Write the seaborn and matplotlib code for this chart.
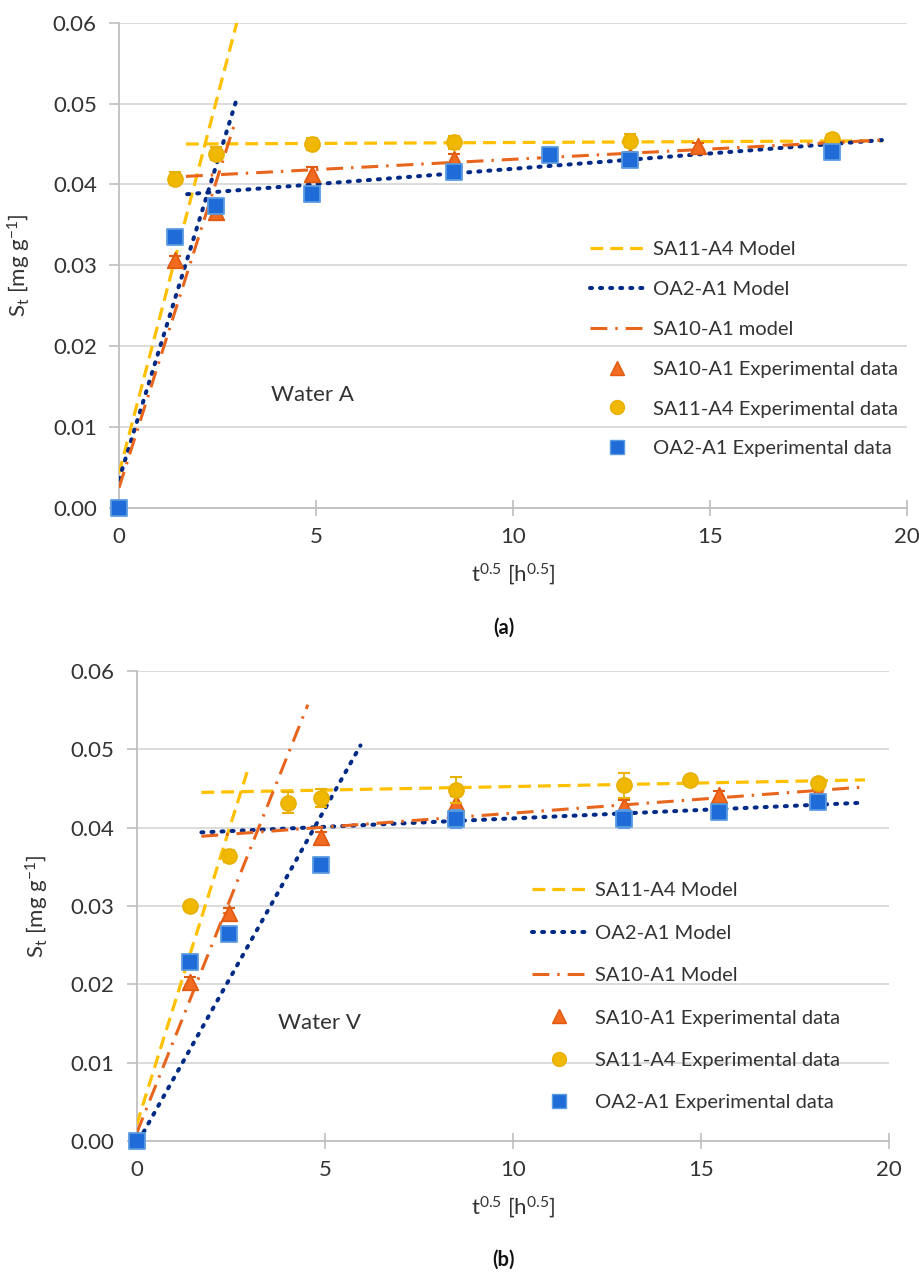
import matplotlib
matplotlib.use("Agg")
import matplotlib.pyplot as plt
from matplotlib.lines import Line2D
import seaborn as sns
import numpy as np
import pandas as pd

# ---------------- data ----------------
x_ticks = [0, 5, 10, 15, 20]
y_ticks = [0.00, 0.01, 0.02, 0.03, 0.04, 0.05, 0.06]

# Panel (a) - Water A
a_tri_x = [1.41, 2.45, 4.90, 8.49, 12.96, 14.70]
a_tri_y = [0.0306, 0.0366, 0.0413, 0.0432, 0.0435, 0.0447]
a_tri_e = [0.0006, 0.0006, 0.0008, 0.0006, 0.0005, 0.0004]
a_cir_x = [1.41, 2.45, 4.90, 8.49, 12.96, 18.10]
a_cir_y = [0.0407, 0.0438, 0.0450, 0.0452, 0.0454, 0.0456]
a_cir_e = [0.0008, 0.0008, 0.0008, 0.0008, 0.0008, 0.0006]
a_sq_x = [0.00, 1.41, 2.45, 4.90, 8.49, 10.95, 12.96, 18.10]
a_sq_y = [0.0000, 0.0335, 0.0373, 0.0388, 0.0416, 0.0437, 0.0430, 0.0440]
a_sq_e = [0.0000, 0.0004, 0.0005, 0.0004, 0.0005, 0.0004, 0.0004, 0.0004]

a_sa11_steep_x = [0.00, 2.99]
a_sa11_steep_y = [0.0043, 0.0600]
a_sa11_flat_x = [1.70, 19.40]
a_sa11_flat_y = [0.0450, 0.0454]
a_oa2_steep_x = [0.00, 2.99]
a_oa2_steep_y = [0.0035, 0.0506]
a_oa2_flat_x = [1.73, 19.40]
a_oa2_flat_y = [0.0388, 0.0455]
a_sa10_steep_x = [0.00, 2.94]
a_sa10_steep_y = [0.0025, 0.0476]
a_sa10_flat_x = [1.70, 19.40]
a_sa10_flat_y = [0.0410, 0.0455]

# Panel (b) - Water V
b_tri_x = [1.41, 2.45, 4.90, 8.49, 12.96, 15.49, 18.10]
b_tri_y = [0.0203, 0.0291, 0.0388, 0.0432, 0.0428, 0.0442, 0.0446]
b_tri_e = [0.0006, 0.0007, 0.0006, 0.0008, 0.0007, 0.0005, 0.0004]
b_cir_x = [1.41, 2.45, 4.02, 4.90, 8.49, 12.96, 14.70, 18.10]
b_cir_y = [0.0300, 0.0364, 0.0432, 0.0438, 0.0448, 0.0454, 0.0461, 0.0457]
b_cir_e = [0.0003, 0.0008, 0.0013, 0.0012, 0.0017, 0.0016, 0.0003, 0.0004]
b_sq_x = [0.00, 1.41, 2.45, 4.90, 8.49, 12.96, 15.49, 18.10]
b_sq_y = [0.0000, 0.0229, 0.0264, 0.0352, 0.0411, 0.0411, 0.0420, 0.0433]
b_sq_e = [0.0000, 0.0004, 0.0004, 0.0007, 0.0012, 0.0012, 0.0004, 0.0004]

b_sa11_steep_x = [0.00, 2.98]
b_sa11_steep_y = [0.0021, 0.0478]
b_sa11_flat_x = [1.72, 19.36]
b_sa11_flat_y = [0.0445, 0.0461]
b_oa2_steep_x = [0.05, 5.95]
b_oa2_steep_y = [0.0000, 0.0505]
b_oa2_flat_x = [1.72, 19.36]
b_oa2_flat_y = [0.0394, 0.0432]
b_sa10_steep_x = [0.00, 4.55]
b_sa10_steep_y = [0.0010, 0.0557]
b_sa10_flat_x = [1.72, 19.36]
b_sa10_flat_y = [0.0389, 0.0452]

a_labels = ["SA11-A4 Model", "OA2-A1 Model", "SA10-A1 model",
            "SA10-A1 Experimental data", "SA11-A4 Experimental data", "OA2-A1 Experimental data"]
b_labels = ["SA11-A4 Model", "OA2-A1 Model", "SA10-A1 Model",
            "SA10-A1 Experimental data", "SA11-A4 Experimental data", "OA2-A1 Experimental data"]

# ---------------- style ----------------
sns.set_theme(style="white")
plt.rcParams["font.family"] = ["Lato", "DejaVu Sans"]
plt.rcParams["mathtext.fontset"] = "custom"
plt.rcParams["mathtext.rm"] = "Lato"
plt.rcParams["mathtext.it"] = "Lato:italic"
plt.rcParams["mathtext.bf"] = "Lato:bold"

YEL = "#FFC000"
YEL_M = "#F0B800"
NAVY = "#002A86"
ORA = "#E8651E"
ORA_M = "#F26B21"
BLU_M = "#1F6BD8"
BLU_E = "#5B9BE0"
TXT = "#333333"
GRID = "#D9D9D9"
AX = "#BFBFBF"

ls_yel = (0, (4.0, 2.2))
ls_navy = (0, (0.5, 2.0))
ls_ora = (0, (5.5, 2.6, 0.8, 2.6))

fig = plt.figure(figsize=(9.2, 12.72), dpi=100)
W, H = 920, 1272
ax1 = fig.add_axes([119 / W, 1 - 508 / H, (907 - 119) / W, (508 - 22.7) / H])
ax2 = fig.add_axes([136.7 / W, 1 - 1141 / H, (889 - 136.7) / W, (1141 - 671) / H])


def seg(ax, xs, ys, color, ls, lw):
    d = pd.DataFrame({"x": xs, "y": ys})
    sns.lineplot(data=d, x="x", y="y", ax=ax, color=color, linestyle=ls,
                 linewidth=lw, sort=False, estimator=None, zorder=3,
                 dash_capstyle="round" if ls is ls_navy else "butt")


def pts(ax, xs, ys, es, marker, fc, ec, s, z):
    ax.errorbar(xs, ys, yerr=es, fmt="none", ecolor=ec, elinewidth=1.3,
                capsize=4.5, capthick=1.5, zorder=z - 0.5)
    d = pd.DataFrame({"x": xs, "y": ys})
    sns.scatterplot(data=d, x="x", y="y", ax=ax, marker=marker, s=s,
                    color=fc, edgecolor=ec, linewidth=1.3, zorder=z, clip_on=False)


def panel(ax, m, tri, cir, sq, labels, note, note_xy, leg_anchor, lspace):
    (s11s, s11f, o2s, o2f, s10s, s10f) = m
    seg(ax, *s11s, YEL, ls_yel, 2.3)
    seg(ax, *s11f, YEL, ls_yel, 2.3)
    seg(ax, *o2s, NAVY, ls_navy, 2.9)
    seg(ax, *o2f, NAVY, ls_navy, 2.9)
    seg(ax, *s10s, ORA, ls_ora, 2.2)
    seg(ax, *s10f, ORA, ls_ora, 2.2)
    pts(ax, *tri, "^", ORA_M, "#E05A10", 125, 5)
    pts(ax, *cir, "o", YEL_M, "#E8B000", 115, 6)
    pts(ax, *sq, "s", BLU_M, BLU_E, 135, 7)

    ax.set_xlim(0, 20)
    ax.set_ylim(0, 0.06)
    ax.set_xticks(x_ticks)
    ax.set_yticks(y_ticks)
    ax.set_yticklabels([f"{v:.2f}" for v in y_ticks])
    ax.yaxis.grid(True, color=GRID, linewidth=1.3, zorder=0)
    ax.xaxis.grid(False)
    ax.set_axisbelow(True)
    for sp in ["top", "right"]:
        ax.spines[sp].set_visible(False)
    for sp in ["left", "bottom"]:
        ax.spines[sp].set_color(AX)
        ax.spines[sp].set_linewidth(1.3)
    ax.tick_params(axis="y", which="major", direction="out", length=7, width=1.2,
                   color=AX, labelsize=16, labelcolor=TXT, pad=9, left=True)
    ax.tick_params(axis="x", which="major", direction="inout", length=12, width=1.2,
                   color=AX, labelsize=16, labelcolor=TXT, pad=8, bottom=True)
    ax.set_xlabel("t$^\\mathregular{0.5}$ [h$^\\mathregular{0.5}$]", fontsize=16,
                  color=TXT, labelpad=10)
    ax.set_ylabel("S$_\\mathregular{t}$ [mg g$^\\mathregular{-1}$]", fontsize=16,
                  color=TXT, labelpad=14)
    ax.text(note_xy[0], note_xy[1], note, fontsize=16, color=TXT,
            ha="center", va="center")

    handles = [
        Line2D([], [], color=YEL, linestyle=ls_yel, linewidth=2.3),
        Line2D([], [], color=NAVY, linestyle=ls_navy, linewidth=2.9, dash_capstyle="round"),
        Line2D([], [], color=ORA, linestyle=ls_ora, linewidth=2.2),
        Line2D([], [], linestyle="none", marker="^", markersize=10,
               markerfacecolor=ORA_M, markeredgecolor="#E05A10"),
        Line2D([], [], linestyle="none", marker="o", markersize=10,
               markerfacecolor=YEL_M, markeredgecolor="#E8B000"),
        Line2D([], [], linestyle="none", marker="s", markersize=10.5,
               markerfacecolor=BLU_M, markeredgecolor=BLU_E),
    ]
    leg = fig.legend(handles, labels, loc="upper left",
                     bbox_to_anchor=leg_anchor, bbox_transform=fig.transFigure,
                     frameon=False, fontsize=14.5, handlelength=2.7,
                     handletextpad=0.45, labelspacing=lspace, borderpad=0,
                     borderaxespad=0)
    for t in leg.get_texts():
        t.set_color(TXT)


panel(ax1,
      [(a_sa11_steep_x, a_sa11_steep_y), (a_sa11_flat_x, a_sa11_flat_y),
       (a_oa2_steep_x, a_oa2_steep_y), (a_oa2_flat_x, a_oa2_flat_y),
       (a_sa10_steep_x, a_sa10_steep_y), (a_sa10_flat_x, a_sa10_flat_y)],
      (a_tri_x, a_tri_y, a_tri_e), (a_cir_x, a_cir_y, a_cir_e), (a_sq_x, a_sq_y, a_sq_e),
      a_labels, "Water A", (4.92, 0.0140), (590 / W, 1 - 241 / H), 1.13)

panel(ax2,
      [(b_sa11_steep_x, b_sa11_steep_y), (b_sa11_flat_x, b_sa11_flat_y),
       (b_oa2_steep_x, b_oa2_steep_y), (b_oa2_flat_x, b_oa2_flat_y),
       (b_sa10_steep_x, b_sa10_steep_y), (b_sa10_flat_x, b_sa10_flat_y)],
      (b_tri_x, b_tri_y, b_tri_e), (b_cir_x, b_cir_y, b_cir_e), (b_sq_x, b_sq_y, b_sq_e),
      b_labels, "Water V", (4.86, 0.0151), (532 / W, 1 - 882 / H), 1.26)

fig.text(ax1.get_position().x0 + ax1.get_position().width / 2 - 0.01, 1 - 628 / H, "(a)",
         fontsize=14.5, fontweight="bold", color="#111111", ha="center", va="center")
fig.text(ax2.get_position().x0 + ax2.get_position().width / 2 - 0.01, 1 - 1260 / H, "(b)",
         fontsize=14.5, fontweight="bold", color="#111111", ha="center", va="center")

fig.savefig("out.png", dpi=100, facecolor="white")
